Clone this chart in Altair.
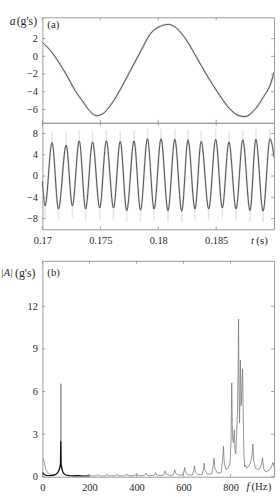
import altair as alt
import pandas as pd

# ---------------- data ----------------
# panel (a) top: slow component
a_t = [0.1700, 0.1707, 0.1714, 0.1721, 0.1728, 0.1736, 0.1741, 0.1747, 0.1753, 0.1759,
       0.1767, 0.1776, 0.1785, 0.1793, 0.1802, 0.1809, 0.1816, 0.1825, 0.1833, 0.1842,
       0.1851, 0.1859, 0.1868, 0.1875, 0.1882, 0.1891, 0.1897, 0.1900]
a_v = [1.55, 0.65, -0.65, -2.15, -3.8, -5.3, -6.2, -6.7, -6.4, -5.5,
       -3.8, -1.6, 0.6, 2.5, 3.4, 3.6, 3.15, 1.7, -0.1, -2.15,
       -4.0, -5.5, -6.6, -6.8, -6.2, -4.55, -3.1, -1.8]

# panel (a) bottom: fast component (extrema)
b_t = [0.17000, 0.17023, 0.17083, 0.17139, 0.17205, 0.17259, 0.17318, 0.17373, 0.17433,
       0.17495, 0.17552, 0.17614, 0.17672, 0.17728, 0.17791, 0.17847, 0.17907, 0.17964,
       0.18024, 0.18084, 0.18143, 0.18203, 0.18257, 0.18317, 0.18371, 0.18436, 0.18496,
       0.18553, 0.18610, 0.18672, 0.18730, 0.18792, 0.18843, 0.18905, 0.18965, 0.19000]
b_v = [-1.0, -5.6, 6.3, -6.2, 5.8, -5.6, 6.6, -6.2, 6.4,
       -6.0, 6.6, -6.0, 6.5, -6.5, 6.6, -6.4, 7.0, -6.2,
       7.0, -6.5, 6.9, -6.6, 6.8, -6.2, 6.5, -6.2, 6.9,
       -6.0, 6.4, -6.2, 6.8, -6.5, 6.9, -6.6, 7.0, 3.5]
b_halo = [None, -8.0, 8.4, -8.3, 8.2, -7.9, 8.6, -8.4, 8.5,
          -8.2, 8.6, -8.2, 8.5, -8.6, 8.6, -8.5, 8.9, -8.3,
          8.9, -8.6, 8.8, -8.7, 8.7, -8.3, 8.5, -8.3, 8.8,
          -8.1, 8.4, -8.3, 8.7, -8.6, 8.8, -8.7, 8.9, None]

# panel (b): spectrum, grey series
g_f = [0, 4, 8, 12, 16, 22, 30, 40, 55, 65, 72, 76, 78, 78.6, 79.3, 81, 85, 92, 100, 108,
       112, 116, 118, 121, 130,
       149, 153, 155, 158, 168,
       189, 193, 195, 198, 208,
       229, 233, 235, 238, 248,
       269, 273, 275, 278, 290,
       310, 314, 316, 319, 330,
       350, 355, 357, 360, 372,
       392, 397, 399, 402, 414,
       433, 438, 440, 443, 455,
       473, 479, 481, 484, 496,
       514, 520, 522, 525, 537,
       555, 561, 563, 566, 578,
       596, 603, 605, 608, 620,
       638, 645, 647, 650, 662,
       679, 686, 688, 691, 703,
       720, 727, 730, 733, 745,
       760, 766, 770, 773, 780, 790,
       798, 802, 805, 808, 812, 816, 819, 822, 826, 829, 832, 834, 836, 838, 840,
       842, 845, 848, 851, 854, 857, 860, 864, 868, 875, 882, 890, 895, 898, 905,
       915, 925, 932, 936, 940, 948, 958, 968, 976, 980, 985]
g_a = [1.3, 1.25, 1.0, 0.7, 0.45, 0.3, 0.2, 0.15, 0.15, 0.25, 0.45, 0.9, 3.0, 6.55, 2.5, 0.9, 0.45, 0.25, 0.12, 0.08,
       0.06, 0.1, 0.13, 0.08, 0.05,
       0.06, 0.1, 0.13, 0.08, 0.05,
       0.06, 0.11, 0.14, 0.08, 0.05,
       0.06, 0.12, 0.16, 0.09, 0.05,
       0.06, 0.12, 0.16, 0.09, 0.06,
       0.07, 0.13, 0.18, 0.1, 0.06,
       0.07, 0.14, 0.2, 0.11, 0.07,
       0.08, 0.16, 0.22, 0.12, 0.08,
       0.08, 0.18, 0.25, 0.13, 0.08,
       0.09, 0.22, 0.3, 0.15, 0.09,
       0.1, 0.3, 0.42, 0.2, 0.1,
       0.11, 0.36, 0.5, 0.24, 0.12,
       0.12, 0.45, 0.65, 0.3, 0.13,
       0.13, 0.55, 0.77, 0.35, 0.15,
       0.15, 0.65, 0.95, 0.45, 0.18,
       0.2, 0.85, 1.3, 0.6, 0.25,
       0.3, 1.2, 2.15, 1.0, 0.5, 0.6,
       1.0, 2.5, 6.6, 2.8, 2.4, 3.3, 1.8, 1.6, 3.0, 4.5, 7.5, 11.1, 6.0, 3.8, 5.5,
       8.2, 5.0, 6.0, 7.6, 4.0, 1.5, 0.7, 0.8, 0.6, 0.7, 0.9, 1.3, 2.3, 1.2, 0.6,
       0.5, 0.6, 0.9, 1.35, 0.6, 0.35, 0.4, 0.5, 0.8, 1.0, 0.7]

# panel (b): spectrum, black series
k_f = [0, 3, 8, 15, 30, 45, 55, 63, 69, 74, 77, 78.3, 79, 82, 86, 92, 100, 115, 130, 150, 170, 200]
k_a = [0.3, 0.25, 0.15, 0.1, 0.08, 0.1, 0.15, 0.25, 0.4, 0.65, 0.85, 2.5, 0.9, 0.6, 0.35, 0.2, 0.12, 0.08, 0.06, 0.08, 0.05, 0.05]

# tick values
y1_ticks = [-6, -4, -2, 0, 2]
y2_ticks = [-8, -4, 0, 4, 8]
yb_ticks = [0, 3, 6, 9, 12]
t_ticks = [0.17, 0.175, 0.18, 0.185]
f_ticks = [0, 200, 400, 600, 800]

# ---------------- styling ----------------
FONT = "Liberation Serif"
TXT = "#2a2a2a"
TICK = "#8a8a8a"
W = 235
H1, H2, HB = 107, 108, 219

xs_t = alt.Scale(domain=[0.17, 0.19], nice=False, zero=False)
xs_f = alt.Scale(domain=[0, 985], nice=False, zero=False)
ys1 = alt.Scale(domain=[-7.5, 4.4], nice=False, zero=False)
ys2 = alt.Scale(domain=[-10, 10], nice=False, zero=False)
ysb = alt.Scale(domain=[0, 15.2], nice=False, zero=False)

dummy = pd.DataFrame({"d": [0]})


def yaxis(vals):
    return alt.Axis(values=vals, title=None, ticks=False, domain=False, grid=False,
                    labelPadding=5, labelFont=FONT, labelFontSize=10.5, labelColor=TXT,
                    labelOverlap=False)


def xaxis(vals, fmt):
    return alt.Axis(values=vals, title=None, ticks=False, domain=False, grid=False,
                    labelPadding=6, labelFont=FONT, labelFontSize=10.5, labelColor=TXT,
                    labelFlush=False, labelOverlap=False, format=fmt)


def inner_ticks(xvals, yvals, xs, ys, xax, yax, h):
    dx = pd.DataFrame({"v": xvals})
    dy = pd.DataFrame({"v": yvals})
    out = []
    for x0, x1 in ((0, 3), (W - 3, W)):
        out.append(alt.Chart(dy).mark_rule(color=TICK, strokeWidth=0.8).encode(
            y=alt.Y("v:Q", scale=ys, axis=yax), x=alt.value(x0), x2=alt.value(x1)))
    for y0, y1 in ((0, 3), (h - 3, h)):
        out.append(alt.Chart(dx).mark_rule(color=TICK, strokeWidth=0.8).encode(
            x=alt.X("v:Q", scale=xs, axis=xax), y=alt.value(y0), y2=alt.value(y1)))
    return out


def label(text, x, y, italic=False, size=11, align="left"):
    return alt.Chart(dummy).mark_text(
        text=text, font=FONT, fontSize=size, color=TXT, align=align, baseline="middle",
        fontStyle="italic" if italic else "normal").encode(x=alt.value(x), y=alt.value(y))


# ---------------- panel 1 ----------------
df_a = pd.DataFrame({"t": a_t, "v": a_v})
YA1 = yaxis(y1_ticks)
anchor = alt.Chart(dummy).mark_rule(opacity=0, color="white").encode(
    x=alt.value(-42), x2=alt.value(-41), y=alt.value(-13), y2=alt.value(-12))
p1_halo = alt.Chart(df_a).mark_line(color="#dcdcdc", strokeWidth=2.4, interpolate="monotone").encode(
    x=alt.X("t:Q", scale=xs_t, axis=None), y=alt.Y("v:Q", scale=ys1, axis=YA1))
p1_line = alt.Chart(df_a).mark_line(color="#4a4a4a", strokeWidth=0.95, interpolate="monotone").encode(
    x=alt.X("t:Q", scale=xs_t, axis=None), y=alt.Y("v:Q", scale=ys1, axis=YA1))
p1 = alt.layer(
    p1_halo, p1_line, anchor,
    *inner_ticks(t_ticks, y1_ticks, xs_t, ys1, None, YA1, H1),
    label("(a)", 5, 8, size=11),
    label("(g's)", -5.3, 3.5, size=12, align="right"),
    label("a", -27, 3.5, italic=True, size=12, align="right"),
).properties(width=W, height=H1)

# ---------------- panel 2 ----------------
df_b = pd.DataFrame({"t": b_t, "v": b_v, "h": b_halo})
df_bh = df_b.dropna()
XA2 = xaxis(t_ticks, ".3~f")
YA2 = yaxis(y2_ticks)
p2_halo = alt.Chart(df_b).mark_line(color="#dedede", strokeWidth=2.2, interpolate="monotone").encode(
    x=alt.X("t:Q", scale=xs_t, axis=XA2), y=alt.Y("v:Q", scale=ys2, axis=YA2))
p2_rules = alt.Chart(df_bh).mark_rule(color="#e9e9e9", strokeWidth=1.8).encode(
    x=alt.X("t:Q", scale=xs_t, axis=XA2), y=alt.Y("v:Q", scale=ys2, axis=YA2), y2="h:Q")
p2_line = alt.Chart(df_b).mark_line(color="#4a4a4a", strokeWidth=0.95, interpolate="monotone").encode(
    x=alt.X("t:Q", scale=xs_t, axis=XA2), y=alt.Y("v:Q", scale=ys2, axis=YA2))
p2 = alt.layer(
    p2_rules, p2_halo, p2_line,
    *inner_ticks(t_ticks, y2_ticks, xs_t, ys2, XA2, YA2, H2),
    label("t", 211.5, 120, italic=True, size=11),
    label("(s)", 217, 120, size=11),
).properties(width=W, height=H2)

# ---------------- panel b ----------------
df_g = pd.DataFrame({"f": g_f, "a": g_a})
df_k = pd.DataFrame({"f": k_f, "a": k_a})
XAB = xaxis(f_ticks, "d")
YAB = yaxis(yb_ticks)
pb_grey = alt.Chart(df_g).mark_line(color="#7a7a7a", strokeWidth=0.8, clip=True).encode(
    x=alt.X("f:Q", scale=xs_f, axis=XAB), y=alt.Y("a:Q", scale=ysb, axis=YAB))
pb_black = alt.Chart(df_k).mark_line(color="#111111", strokeWidth=1.2, clip=True).encode(
    x=alt.X("f:Q", scale=xs_f, axis=XAB), y=alt.Y("a:Q", scale=ysb, axis=YAB))
pb = alt.layer(
    pb_grey, pb_black,
    *inner_ticks(f_ticks, yb_ticks, xs_f, ysb, XAB, YAB, HB),
    label("(b)", 5, 12, size=11),
    label("(g's)", -7, 12, size=12, align="right"),
    label("|A|", -30, 12, italic=True, size=10.5, align="right"),
    label("f", 207, 229.3, italic=True, size=11),
    label("(Hz)", 212, 229.3, size=11),
).properties(width=W, height=HB)

top = alt.vconcat(p1, p2, spacing=0, bounds="flush")
chart = alt.vconcat(top, pb, spacing=13).properties(
    padding=0, background="white"
).configure_view(stroke="#9a9a9a", strokeWidth=1)

chart.save("out.html", embed_options={"renderer": "svg", "actions": False})
